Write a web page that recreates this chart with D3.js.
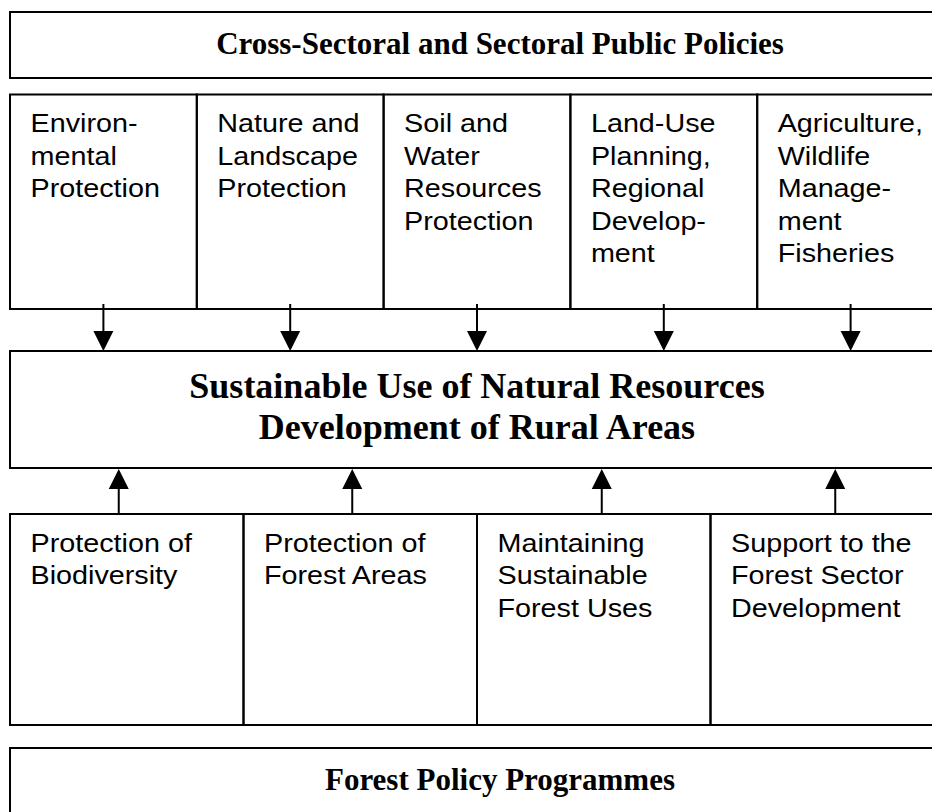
<!DOCTYPE html>
<html>
<head>
<meta charset="utf-8">
<script src="https://cdn.jsdelivr.net/npm/d3@7"></script>
<style>
  html, body { margin: 0; padding: 0; background: #fff; }
  svg { display: block; }
  .title { font-family: "Times New Roman", "Liberation Serif", serif; font-weight: bold; fill: #000; }
  .cell { font-family: Arial, "Liberation Sans", sans-serif; fill: #000; }
</style>
</head>
<body>
<div id="chart"></div>
<script>
// Diagram content
const topTitle = "Cross-Sectoral and Sectoral Public Policies";
const sectoralPolicies = [
  ["Environ-", "mental", "Protection"],
  ["Nature and", "Landscape", "Protection"],
  ["Soil and", "Water", "Resources", "Protection"],
  ["Land-Use", "Planning,", "Regional", "Develop-", "ment"],
  ["Agriculture,", "Wildlife", "Manage-", "ment", "Fisheries"]
];
const centreTitle = ["Sustainable Use of Natural Resources", "Development of Rural Areas"];
const forestGoals = [
  ["Protection of", "Biodiversity"],
  ["Protection of", "Forest Areas"],
  ["Maintaining", "Sustainable", "Forest Uses"],
  ["Support to the", "Forest Sector", "Development"]
];
// up arrows sit a little off the column centres
const upArrowShift = [-8, -8, 8, 8];
const bottomTitle = "Forest Policy Programmes";

const width = 932, height = 812;
const left = 10, right = 944; // boxes run past the right edge

const svg = d3.select("#chart")
  .append("svg")
  .attr("width", width)
  .attr("height", height);

// column scales
const xTop = d3.scaleBand()
  .domain(d3.range(sectoralPolicies.length))
  .range([left, right]);
const xBottom = d3.scaleBand()
  .domain(d3.range(forestGoals.length))
  .range([left, right]);

// vertical layout of the bands
const rows = {
  top: [12, 78],
  sect: [94.5, 309],
  centre: [351, 468],
  goals: [514, 725],
  bottom: [748, 830]
};

const stroke = "#000", sw = 2;

function box(x0, x1, y0, y1) {
  svg.append("rect")
    .attr("x", x0).attr("y", y0)
    .attr("width", x1 - x0).attr("height", y1 - y0)
    .attr("fill", "none")
    .attr("stroke", stroke)
    .attr("stroke-width", sw);
}

// Title boxes
box(left, right, rows.top[0], rows.top[1]);
box(left, right, rows.centre[0], rows.centre[1]);
box(left, right, rows.bottom[0], rows.bottom[1]);

svg.append("text")
  .attr("class", "title")
  .attr("x", 500).attr("y", 53.5)
  .attr("text-anchor", "middle")
  .style("font-size", "31px")
  .text(topTitle);

svg.append("text")
  .attr("class", "title")
  .attr("x", 500).attr("y", 789.5)
  .attr("text-anchor", "middle")
  .style("font-size", "31px")
  .text(bottomTitle);

svg.selectAll(".centre-line")
  .data(centreTitle)
  .join("text")
  .attr("class", "title centre-line")
  .attr("x", 477)
  .attr("y", (d, i) => 397.5 + i * 41)
  .attr("text-anchor", "middle")
  .style("font-size", "36px")
  .text(d => d);

// Cell rows
function cellRow(data, scale, y0, y1) {
  const g = svg.append("g");
  g.selectAll("rect")
    .data(data)
    .join("rect")
    .attr("x", (d, i) => scale(i))
    .attr("y", y0)
    .attr("width", scale.bandwidth())
    .attr("height", y1 - y0)
    .attr("fill", "none")
    .attr("stroke", stroke)
    .attr("stroke-width", sw);

  g.selectAll("g.label")
    .data(data)
    .join("g")
    .attr("class", "label")
    .attr("transform", (d, i) => `translate(${scale(i) + 20.5},${y0 + 37.5}) scale(1.15,1)`)
    .each(function (lines) {
      d3.select(this).selectAll("text")
        .data(lines)
        .join("text")
        .attr("class", "cell")
        .attr("x", 0)
        .attr("y", (d, i) => i * 32.6)
        .style("font-size", "25px")
        .text(d => d);
    });
}

cellRow(sectoralPolicies, xTop, rows.sect[0], rows.sect[1]);
cellRow(forestGoals, xBottom, rows.goals[0], rows.goals[1]);

// Arrows
const headLen = 20, headW = 20;

function arrow(x, yFrom, yTo) {
  const dir = yTo > yFrom ? 1 : -1;
  const base = yTo - dir * headLen;
  svg.append("line")
    .attr("x1", x).attr("x2", x)
    .attr("y1", yFrom).attr("y2", base)
    .attr("stroke", stroke)
    .attr("stroke-width", sw);
  svg.append("path")
    .attr("d", `M${x - headW / 2},${base} L${x + headW / 2},${base} L${x},${yTo} Z`)
    .attr("fill", stroke);
}

sectoralPolicies.forEach((d, i) => {
  arrow(xTop(i) + xTop.bandwidth() / 2, 304, rows.centre[0]);
});

forestGoals.forEach((d, i) => {
  arrow(xBottom(i) + xBottom.bandwidth() / 2 + upArrowShift[i], rows.goals[0], rows.centre[1] + 1);
});
</script>
</body>
</html>
